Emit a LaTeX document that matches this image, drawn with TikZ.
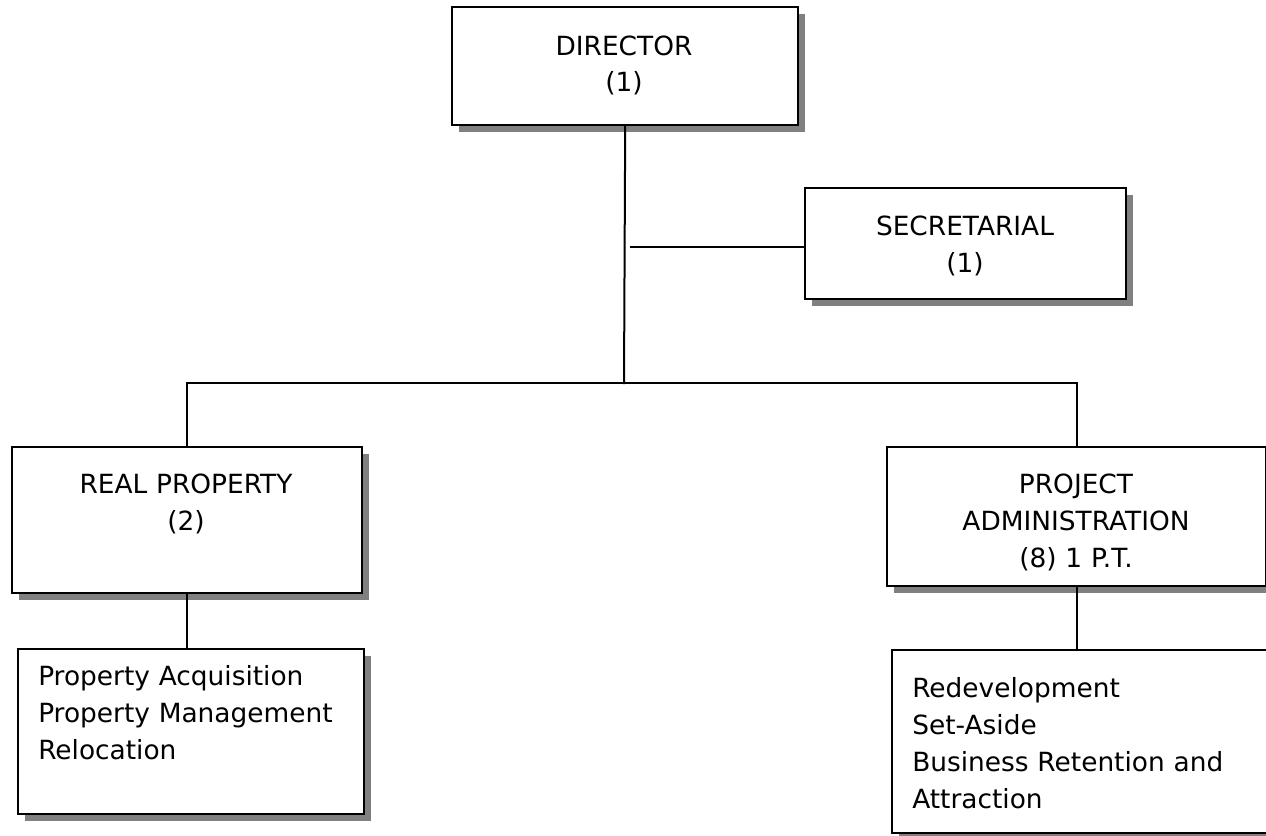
\documentclass[tikz,border=0pt]{standalone}
\usepackage{fontspec}
\setmainfont{DejaVu Sans}
\usetikzlibrary{shadows}
\begin{document}
\begin{tikzpicture}[x=0.75pt,y=-0.75pt,
  unitbox/.style n args={2}{draw=black, line width=1.8pt, fill=white, inner sep=0pt,
    anchor=north west, minimum width=#1*0.75pt, minimum height=#2*0.75pt,
    drop shadow={shadow xshift=4.9pt, shadow yshift=-4.9pt, fill=black!50, opacity=1}},
  link/.style={line width=1.5pt, line cap=rect},
  chart font/.style={font=\fontsize{19.8pt}{27.75pt}\selectfont},
  ctext/.style={chart font, inner sep=0pt, anchor=base, text width=#1, align=center},
  ltext/.style={chart font, inner sep=0pt, anchor=base west, text width=290pt, align=left}]
\useasboundingbox (0,0) rectangle (1266,835);
\clip (0,0) rectangle (1266,835);

% unit boxes
\node[unitbox={346}{118}] (dir) at (451,6) {};
\node[unitbox={321}{111}] (sec) at (804,187) {};
\node[unitbox={350}{146}] (rp)  at (11,446) {};
\node[unitbox={379}{139}] (pa)  at (886,446) {};
\node[unitbox={346}{165}] (rpl) at (17,648) {};
\node[unitbox={399}{183}] (pal) at (891,649) {};

% box texts
\node[ctext=240pt] (dirT) at (624,55) {DIRECTOR\\(1)};
\node[ctext=220pt] (secT) at (965,235) {SECRETARIAL\\(1)};
\node[ctext=240pt] (rpT) at (186,493) {REAL PROPERTY\\(2)};
\node[ctext=260pt] (paT) at (1076,493) {PROJECT\\ADMINISTRATION\\(8) 1 P.T.};
\node[ltext] (rplT) at (38,685) {Property Acquisition\\Property Management\\Relocation};
\node[ltext] (palT) at (912,697) {Redevelopment\\Set-Aside\\Business Retention and\\Attraction};

% reporting lines
\coordinate (bus) at (624,383);
\coordinate (secJ) at (631,247);
\draw[link] (dir.south) -- (bus);
\draw[link] (secJ) -- (secJ -| sec.west);
\draw[link] (rp.north) |- (bus) -| (pa.north);
\draw[link] (rp.south) -- (rp.south |- rpl.north);
\draw[link] (pa.south) -- (pa.south |- pal.north);
\end{tikzpicture}
\end{document}
